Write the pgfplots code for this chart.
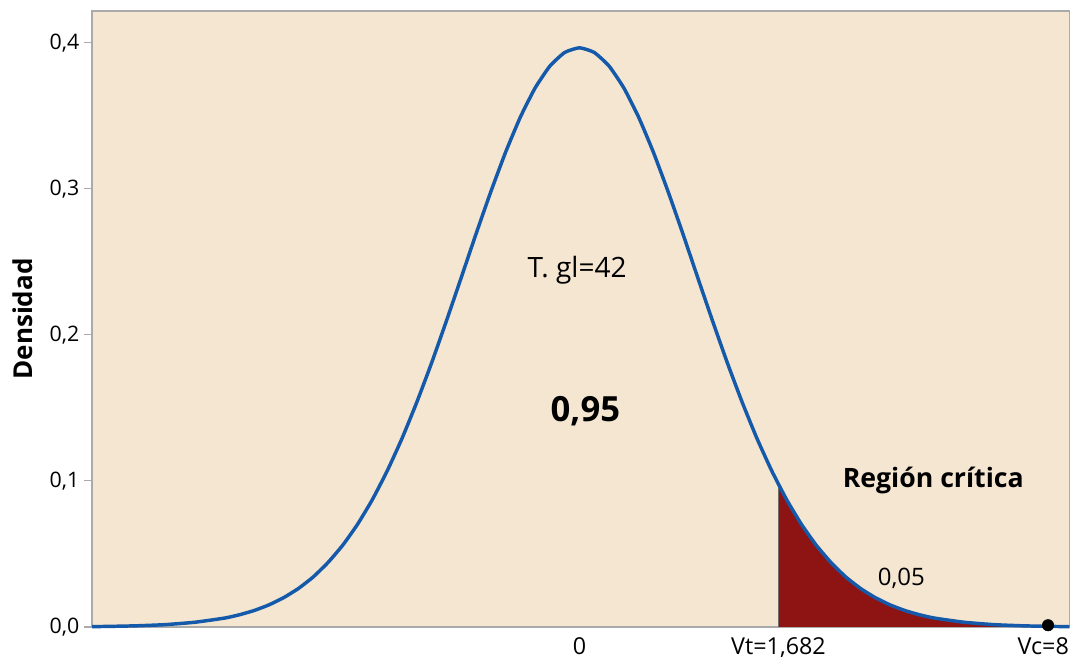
\documentclass[border=0pt]{standalone}
\usepackage{pgfplots}
\pgfplotsset{compat=1.18}
\usepackage{fontspec}
\setmainfont{Open Sans}
\definecolor{bgc}{RGB}{245,230,210}
\definecolor{redfill}{RGB}{142,20,20}
\definecolor{curveblue}{RGB}{21,90,170}
\definecolor{framegray}{RGB}{170,170,170}
\begin{document}
\begin{tikzpicture}
\begin{axis}[
  at={(0,0)}, anchor=south west,
  scale only axis,
  width=733pt, height=462pt,
  xmin=-4.12, xmax=4.14,
  ymin=0, ymax=0.4218,
  axis background/.style={fill=bgc},
  axis line style={framegray, line width=0.8pt},
  clip=false,
  xtick={0,1.682,3.92},
  xticklabels={{0},{Vt=1,682},{Vc=8}},
  xtick style={draw=none},
  xticklabel style={font=\fontsize{17.5}{19}\selectfont, yshift=1.5pt},
  ytick={0,0.1,0.2,0.3,0.4},
  ytick pos=left,
  tick align=outside,
  major tick length=6pt,
  ytick style={framegray, line width=0.8pt},
  yticklabel style={font=\fontsize{16}{18}\selectfont,
    /pgf/number format/.cd, fixed, fixed zerofill, precision=1, use comma, assume math mode=true},
  ylabel={\textbf{Densidad}},
  ylabel style={font=\fontsize{19.5}{22}\selectfont, yshift=6pt},
]
% critical region fill
\addplot[fill=redfill, draw=none] coordinates {
 (1.682,0) (1.682,0.0977) (1.75,0.0873) (1.875,0.0704) (2,0.0561) (2.125,0.0442)
 (2.25,0.0343) (2.375,0.0264) (2.5,0.0201) (2.625,0.01513) (2.75,0.01128)
 (2.875,0.00834) (3,0.00610) (3.25,0.00326) (3.5,0.00162) (3.75,0.00080)
 (4,0.00038) (4.14,0.00025) (4.14,0)
} -- cycle;
\addplot[draw={rgb,255:red,110;green,110;blue,110}, line width=0.8pt] coordinates {(1.682,0) (1.682,0.0977)};
% t density, gl = 42
\addplot[curveblue, line width=2.6pt, smooth, tension=0.3] coordinates {
 (-4.12,0.00026) (-4,0.00038) (-3.75,0.00080) (-3.5,0.00162) (-3.25,0.00326)
 (-3,0.00610) (-2.875,0.00834) (-2.75,0.01128) (-2.625,0.01513) (-2.5,0.0201)
 (-2.375,0.0264) (-2.25,0.0343) (-2.125,0.0442) (-2,0.0561) (-1.875,0.0704)
 (-1.75,0.0873) (-1.625,0.1069) (-1.5,0.1291) (-1.375,0.1539) (-1.25,0.1808)
 (-1.125,0.2095) (-1,0.2391) (-0.875,0.2690) (-0.75,0.2979) (-0.625,0.3250)
 (-0.5,0.3491) (-0.375,0.3691) (-0.25,0.3841) (-0.125,0.3934) (0,0.3966)
 (0.125,0.3934) (0.25,0.3841) (0.375,0.3691) (0.5,0.3491) (0.625,0.3250)
 (0.75,0.2979) (0.875,0.2690) (1,0.2391) (1.125,0.2095) (1.25,0.1808)
 (1.375,0.1539) (1.5,0.1291) (1.625,0.1069) (1.75,0.0873) (1.875,0.0704)
 (2,0.0561) (2.125,0.0442) (2.25,0.0343) (2.375,0.0264) (2.5,0.0201)
 (2.625,0.01513) (2.75,0.01128) (2.875,0.00834) (3,0.00610) (3.25,0.00326)
 (3.5,0.00162) (3.75,0.00080) (4,0.00038) (4.14,0.00025)
};
% calculated value point
\addplot[only marks, mark=*, mark size=4.3pt, black] coordinates {(3.96,0.0012)};
\node[font=\fontsize{21}{24}\selectfont] at (axis cs:-0.02,0.2445) {T. gl=42};
\node[font=\bfseries\fontsize{26}{30}\selectfont] at (axis cs:0.05,0.148) {0,95};
\node[font=\bfseries\fontsize{20}{24}\selectfont] at (axis cs:2.99,0.1) {Región crítica};
\node[font=\fontsize{18}{20}\selectfont] at (axis cs:2.72,0.0335) {0,05};
\end{axis}
\pgfresetboundingbox
\path[use as bounding box] (-69pt,-24.75pt) rectangle (737.25pt,470.25pt);
\end{tikzpicture}
\end{document}
